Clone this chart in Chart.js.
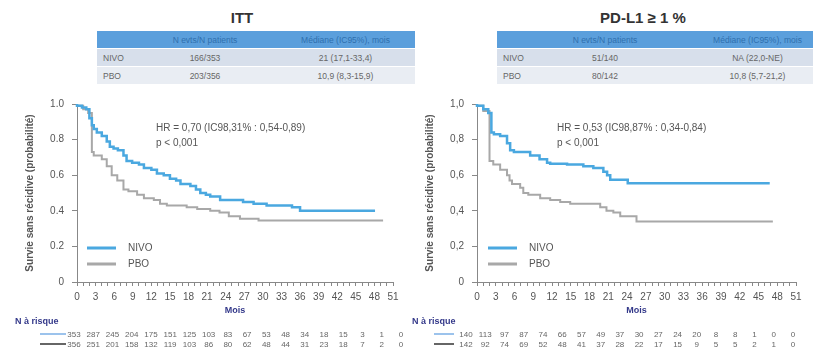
<!DOCTYPE html>
<html>
<head>
<meta charset="utf-8">
<script src="https://cdn.jsdelivr.net/npm/chart.js@4.4.1/dist/chart.umd.min.js"></script>
<style>
body { margin: 0; background: #fff; font-family: "Liberation Sans", Arial, sans-serif; }
#page { position: relative; width: 813px; height: 354px; overflow: hidden; }
.abs { position: absolute; white-space: nowrap; }
.title { font-weight: bold; font-size: 15px; color: #333; transform: translate(-50%, -50%); }
.hr { font-size: 10px; color: #555; line-height: 15px; }
.leg { font-size: 10px; color: #555; transform: translateY(-50%); }
.leg span { display: inline-block; width: 29px; height: 0; border-top: 3px solid; vertical-align: middle; margin-right: 12px; }
.navy { color: #34398a; font-weight: bold; font-size: 9px; transform: translateY(-50%); }
.risk { font-size: 8px; color: #666; transform: translate(-50%, -50%); }
.rline { position: absolute; height: 0; border-top: 2px solid; }
table.res { position: absolute; border-collapse: collapse; table-layout: fixed; font-size: 8.5px; color: #666; }
table.res td { height: 17px; padding: 0; border-bottom: 1px solid #fff; text-align: center; }
table.res td:first-child { text-align: left; padding-left: 6px; }
table.res tr.head td { background: #5b9fdc; color: #2f6fae; }
table.res tr.r1 td { background: #d7dfeb; }
table.res tr.r2 td { background: #e9edf3; }
</style>
</head>
<body>
<div id="page">
  <div class="abs title" style="left:242px; top:17px;">ITT</div>
  <div class="abs title" style="left:643px; top:17px;">PD-L1 ≥ 1 %</div>

  <table class="res" style="left:97px; top:31px; width:318px;">
    <colgroup><col style="width:51px"><col style="width:114px"><col style="width:153px"></colgroup>
    <tr class="head"><td></td><td>N evts/N patients</td><td style="padding-left:14px">Médiane (IC95%), mois</td></tr>
    <tr class="r1"><td>NIVO</td><td>166/353</td><td style="padding-left:14px">21 (17,1-33,4)</td></tr>
    <tr class="r2"><td>PBO</td><td>203/356</td><td style="padding-left:14px">10,9 (8,3-15,9)</td></tr>
  </table>
  <table class="res" style="left:497px; top:31px; width:316px;">
    <colgroup><col style="width:51px"><col style="width:114px"><col style="width:151px"></colgroup>
    <tr class="head"><td></td><td>N evts/N patients</td><td style="padding-left:40px">Médiane (IC95%), mois</td></tr>
    <tr class="r1"><td>NIVO</td><td>51/140</td><td style="padding-left:40px">NA (22,0-NE)</td></tr>
    <tr class="r2"><td>PBO</td><td>80/142</td><td style="padding-left:40px">10,8 (5,7-21,2)</td></tr>
  </table>

  <canvas id="ittChart" class="abs" width="410" height="226" style="left:0; top:90px;"></canvas>
  <canvas id="pdChart" class="abs" width="413" height="226" style="left:400px; top:90px;"></canvas>

  <div class="abs hr" style="left:156px; top:120px;">HR = 0,70 (IC98,31% : 0,54-0,89)<br>p &lt; 0,001</div>
  <div class="abs hr" style="left:557px; top:120px;">HR = 0,53 (IC98,87% : 0,34-0,84)<br>p &lt; 0,001</div>

  <div class="abs leg" style="left:87px; top:247px;"><span style="border-color:#4aa8e0"></span>NIVO</div>
  <div class="abs leg" style="left:87px; top:263px;"><span style="border-color:#a8a8a8"></span>PBO</div>
  <div class="abs leg" style="left:488px; top:247px;"><span style="border-color:#4aa8e0"></span>NIVO</div>
  <div class="abs leg" style="left:488px; top:263px;"><span style="border-color:#a8a8a8"></span>PBO</div>

  <div class="abs navy" style="left:15px; top:321px;">N à risque</div>
  <div class="abs navy" style="left:412px; top:321px;">N à risque</div>

  <div id="riskLayer"></div>
</div>

<script>
// Kaplan-Meier steps (month, survival)
const ittNivoMonths = [0, 0.8, 1.5, 2.0, 2.4, 2.7, 3.2, 4.0, 4.8, 5.3, 5.9, 6.6, 7.5, 8.0, 8.9, 10.0, 10.8, 12.0, 12.9, 14.0, 15.0, 16.0, 16.7, 18.3, 19.2, 19.9, 20.8, 21.5, 23.1, 26.8, 28.5, 30.6, 34.7, 36.0, 40.3, 48.1];
const ittNivoSurv   = [1, 0.99, 0.98, 0.97, 0.92, 0.88, 0.86, 0.84, 0.82, 0.79, 0.76, 0.75, 0.74, 0.71, 0.68, 0.67, 0.66, 0.64, 0.63, 0.61, 0.60, 0.58, 0.57, 0.55, 0.54, 0.52, 0.50, 0.49, 0.48, 0.46, 0.45, 0.44, 0.43, 0.42, 0.40, 0.40];

const ittPboMonths = [0, 1.0, 1.8, 2.4, 2.7, 4.0, 4.8, 5.6, 6.5, 7.5, 8.3, 9.7, 10.8, 12.4, 13.4, 14.5, 17.7, 19.4, 21.5, 23.0, 24.5, 26.3, 29.3, 34.6, 49.4];
const ittPboSurv   = [1, 0.99, 0.97, 0.95, 0.73, 0.71, 0.69, 0.65, 0.60, 0.57, 0.52, 0.51, 0.49, 0.47, 0.46, 0.44, 0.43, 0.42, 0.41, 0.40, 0.39, 0.37, 0.355, 0.345, 0.345];

const pdNivoMonths = [0, 1.0, 1.8, 2.3, 2.7, 3.7, 4.8, 5.3, 5.9, 8.5, 10.0, 11.2, 11.7, 14.4, 17.0, 18.6, 20.2, 20.8, 21.3, 24.1, 29.4, 46.8];
const pdNivoSurv   = [1, 0.99, 0.97, 0.95, 0.84, 0.83, 0.82, 0.78, 0.74, 0.73, 0.71, 0.69, 0.67, 0.665, 0.66, 0.65, 0.64, 0.62, 0.60, 0.575, 0.555, 0.555];

const pdPboMonths = [0, 1.0, 2.0, 2.6, 3.7, 4.8, 5.2, 5.6, 6.9, 7.4, 8.2, 10.1, 11.7, 13.3, 14.9, 19.7, 20.7, 21.8, 22.9, 25.5, 29.4, 47.3];
const pdPboSurv   = [1, 0.99, 0.96, 0.68, 0.66, 0.63, 0.60, 0.57, 0.55, 0.53, 0.50, 0.49, 0.47, 0.46, 0.45, 0.44, 0.42, 0.40, 0.39, 0.37, 0.34, 0.34];

// Number at risk, months 0, 3, ... 51
const ittNivoRisk = [353, 287, 245, 204, 175, 151, 125, 103, 83, 67, 53, 48, 34, 18, 15, 3, 1, 0];
const ittPboRisk  = [356, 251, 201, 158, 132, 119, 103, 86, 80, 62, 48, 44, 31, 23, 18, 7, 2, 0];
const pdNivoRisk  = [140, 113, 97, 87, 74, 66, 57, 49, 37, 30, 27, 24, 20, 8, 8, 1, 0, 0];
const pdPboRisk   = [142, 92, 74, 69, 52, 48, 41, 37, 28, 22, 17, 15, 9, 5, 5, 2, 1, 0];

const NIVO_COLOR = '#4aa8e0';
const PBO_COLOR = '#a8a8a8';

function toPoints(months, surv) {
    return months.map((m, i) => ({ x: m, y: surv[i] }));
}

function makeChart(id, nivoM, nivoS, pboM, pboS, decSep) {
    return new Chart(document.getElementById(id), {
        type: 'line',
        data: {
            datasets: [
                { label: 'NIVO', data: toPoints(nivoM, nivoS), borderColor: NIVO_COLOR, borderWidth: 2.5, stepped: 'after', pointRadius: 0, clip: 4 },
                { label: 'PBO', data: toPoints(pboM, pboS), borderColor: PBO_COLOR, borderWidth: 2, stepped: 'after', pointRadius: 0, clip: 4 }
            ]
        },
        options: {
            responsive: false,
            animation: false,
            layout: { padding: { top: 10, right: 17, left: 0, bottom: 0 } },
            plugins: { legend: { display: false }, tooltip: { enabled: false } },
            scales: {
                x: {
                    type: 'linear', min: 0, max: 51,
                    afterFit: s => { s.height = 34; },
                    border: { color: '#888' },
                    grid: { drawOnChartArea: false, tickLength: 4, color: '#888' },
                    ticks: {
                        stepSize: 1, autoSkip: false, maxRotation: 0, padding: 5,
                        color: '#555', font: { size: 10 },
                        callback: v => (v % 3 === 0 ? v : '')
                    },
                    title: {
                        display: true, text: 'Mois', color: '#34398a',
                        font: { size: 9, weight: 'bold' }, padding: 0
                    }
                },
                y: {
                    min: 0, max: 1,
                    afterFit: s => { s.width = 77; },
                    border: { color: '#888' },
                    grid: { drawOnChartArea: false, tickLength: 5, color: '#888' },
                    ticks: {
                        stepSize: 0.2, padding: 8, color: '#555', font: { size: 10 },
                        callback: v => (v === 0 ? '0' : v.toFixed(1).replace('.', decSep))
                    },
                    title: {
                        display: true, text: 'Survie sans récidive (probabilité)',
                        color: '#555', font: { size: 10, weight: 'bold' }, padding: { top: 24 }
                    }
                }
            }
        }
    });
}

makeChart('ittChart', ittNivoMonths, ittNivoSurv, ittPboMonths, ittPboSurv, '.');
makeChart('pdChart', pdNivoMonths, pdNivoSurv, pdPboMonths, pdPboSurv, ',');

// risk table rows
function riskRows(x0, x1, lineLeft, lineWidth, rowsData) {
    const layer = document.getElementById('riskLayer');
    rowsData.forEach((row, r) => {
        const y = 334 + r * 10;
        const line = document.createElement('div');
        line.className = 'rline';
        line.style.left = lineLeft + 'px';
        line.style.width = lineWidth + 'px';
        line.style.top = (y - 1) + 'px';
        line.style.borderColor = row.color;
        layer.appendChild(line);
        const step = (x1 - x0) / (row.values.length - 1);
        row.values.forEach((v, i) => {
            const el = document.createElement('div');
            el.className = 'abs risk';
            el.style.left = (x0 + i * step) + 'px';
            el.style.top = y + 'px';
            el.textContent = v;
            layer.appendChild(el);
        });
    });
}

riskRows(74, 401, 40, 26, [
    { values: ittNivoRisk, color: '#9cc3ec' },
    { values: ittPboRisk, color: '#666' }
]);
riskRows(466, 793, 434, 20, [
    { values: pdNivoRisk, color: '#9cc3ec' },
    { values: pdPboRisk, color: '#666' }
]);
</script>
</body>
</html>
